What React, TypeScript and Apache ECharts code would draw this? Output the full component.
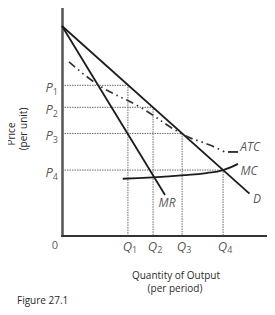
import React, { useEffect, useRef } from "react";
import * as echarts from "echarts";

// Quantities and prices (arbitrary units, 0–100 axes)
const qLabels = ["1", "2", "3", "4"];
const qValues = [32, 44.2, 58.3, 78.2];
const pValues = [65.8, 56.2, 44.8, 28.8];

const demand = [
  [0, 91.7],
  [91, 18.5],
];
const marginalRevenue = [
  [0, 91.7],
  [50, 17.9],
];
const atc = [
  [3.4, 76.0],
  [18.4, 65.5],
  [37.9, 56.3],
  [58.3, 44.5],
  [71.8, 39.7],
  [79.1, 36.7],
];
const atcTail = [
  [80.6, 36.7],
  [85.5, 36.7],
];
const mc = [
  [29.5, 25.0],
  [44.2, 25.6],
  [60, 26.6],
  [70, 27.5],
  [78.2, 28.8],
  [85.4, 31.5],
];

const curveLabels = [
  { name: "ATC", pos: [91.3, 38.9] },
  { name: "MC", pos: [90.8, 28.8] },
  { name: "D", pos: [94.7, 16.2] },
  { name: "MR", pos: [51, 14.8] },
];

const FONT = "'Open Sans', 'Liberation Sans', sans-serif";
const INK = "#1c1c1c";
const DOT = "#6a6a6a";
const TEXT = "#2a2a2a";

export default function App() {
  const ref = useRef<HTMLDivElement>(null);

  useEffect(() => {
    if (!ref.current) return;
    const chart = echarts.init(ref.current, undefined, { renderer: "svg" });

    const guideSeries: any[] = [];
    qValues.forEach((q, i) => {
      guideSeries.push({
        type: "line",
        data: [
          [0, pValues[i]],
          [q, pValues[i]],
          [q, 0],
        ],
        symbol: "none",
        lineStyle: { color: DOT, width: 1, type: [1.5, 1] },
        z: 1,
      });
    });

    const subRich = {
      v: { fontStyle: "italic", fontSize: 13, lineHeight: 17, fontFamily: FONT, color: TEXT },
      s: { fontSize: 9, lineHeight: 9, verticalAlign: "bottom", fontFamily: FONT, color: TEXT },
    };

    const option: any = {
      animation: false,
      grid: { left: 62, top: 7, right: 7, bottom: 79 },
      xAxis: {
        type: "value",
        min: 0,
        max: 100,
        axisLine: { show: true, lineStyle: { color: "#333", width: 2 } },
        axisTick: { show: false },
        axisLabel: { show: false },
        splitLine: { show: false },
      },
      yAxis: {
        type: "value",
        min: 0,
        max: 100,
        axisLine: { show: true, lineStyle: { color: "#555", width: 2.5 } },
        axisTick: { show: false },
        axisLabel: { show: false },
        splitLine: { show: false },
      },
      series: [
        ...guideSeries,
        {
          name: "D",
          type: "line",
          data: demand,
          symbol: "none",
          lineStyle: { color: INK, width: 1.8 },
          z: 3,
        },
        {
          name: "MR",
          type: "line",
          data: marginalRevenue,
          symbol: "none",
          lineStyle: { color: INK, width: 1.8 },
          z: 3,
        },
        {
          name: "ATC",
          type: "line",
          data: atc,
          smooth: 0.4,
          symbol: "none",
          lineStyle: { color: "#333", width: 1.7, type: [8, 4, 1.5, 4, 1.5, 4] },
          z: 3,
        },
        {
          name: "ATC tail",
          type: "line",
          data: atcTail,
          symbol: "none",
          lineStyle: { color: "#333", width: 1.9 },
          z: 3,
        },
        {
          name: "MC",
          type: "line",
          data: mc,
          smooth: 0.5,
          symbol: "none",
          lineStyle: { color: INK, width: 1.8 },
          z: 3,
        },
        {
          name: "P labels",
          type: "scatter",
          symbolSize: 0,
          clip: false,
          data: pValues.map((p, i) => ({ value: [0, p], name: qLabels[i] })),
          label: {
            show: true,
            position: "left",
            distance: 4,
            offset: [0, 2],
            formatter: (d: any) => `{v|P}{s|${d.name}}`,
            rich: subRich,
          },
          z: 4,
        },
        {
          name: "Q labels",
          type: "scatter",
          symbolSize: 0,
          clip: false,
          data: qValues.map((q, i) => ({ value: [q, 0], name: qLabels[i] })),
          label: {
            show: true,
            position: "bottom",
            distance: 1,
            offset: [2, 0],
            formatter: (d: any) => `{v|Q}{s|${d.name}}`,
            rich: subRich,
          },
          z: 4,
        },
        {
          name: "origin",
          type: "scatter",
          symbolSize: 0,
          clip: false,
          data: [{ value: [0, 0], name: "0" }],
          label: {
            show: true,
            position: "bottom",
            distance: 3,
            offset: [-7, 0],
            formatter: "0",
            fontSize: 11,
            fontFamily: FONT,
            color: TEXT,
          },
        },
        {
          name: "curve labels",
          type: "scatter",
          symbolSize: 0,
          clip: false,
          data: curveLabels.map((c) => ({ value: c.pos, name: c.name })),
          label: {
            show: true,
            position: "inside",
            formatter: (d: any) => d.name,
            fontStyle: "italic",
            fontSize: 12,
            fontFamily: FONT,
            color: TEXT,
          },
          z: 4,
        },
      ],
      graphic: [
        {
          type: "text",
          x: 11,
          y: 134,
          rotation: Math.PI / 2,
          style: {
            text: "Price",
            font: `10px ${FONT}`,
            fill: TEXT,
            align: "center",
            verticalAlign: "middle",
          },
        },
        {
          type: "text",
          x: 23,
          y: 129,
          rotation: Math.PI / 2,
          style: {
            text: "(per unit)",
            font: `10px ${FONT}`,
            fill: TEXT,
            align: "center",
            verticalAlign: "middle",
          },
        },
        {
          type: "text",
          x: 176,
          y: 275,
          style: {
            text: "Quantity of Output",
            font: `10px ${FONT}`,
            fill: TEXT,
            align: "center",
            verticalAlign: "middle",
          },
        },
        {
          type: "text",
          x: 175,
          y: 288,
          style: {
            text: "(per period)",
            font: `10px ${FONT}`,
            fill: TEXT,
            align: "center",
            verticalAlign: "middle",
          },
        },
        {
          type: "text",
          x: 17,
          y: 300,
          style: {
            text: "Figure 27.1",
            font: `10px ${FONT}`,
            fill: TEXT,
            align: "left",
            verticalAlign: "middle",
          },
        },
      ],
    };

    chart.setOption(option);
    return () => chart.dispose();
  }, []);

  return <div ref={ref} style={{ width: 275, height: 315, margin: -8 }} />;
}
